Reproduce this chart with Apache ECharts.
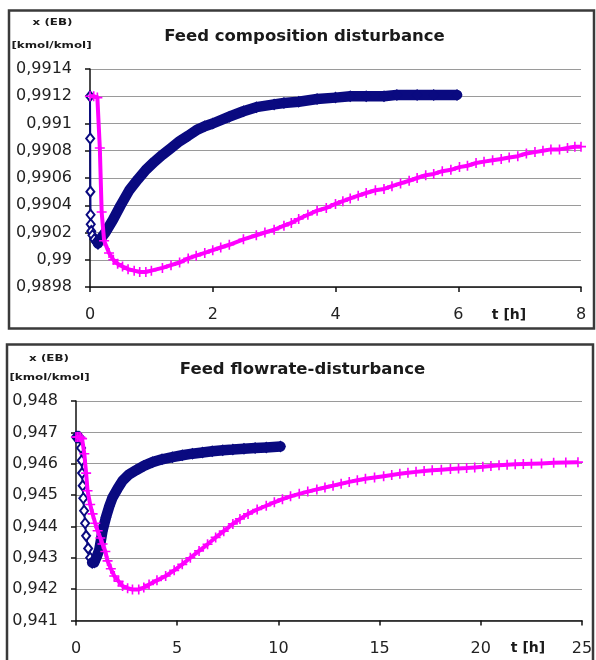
<!DOCTYPE html>
<html><head><meta charset="utf-8">
<script src="https://cdn.jsdelivr.net/npm/echarts@6/dist/echarts.min.js"></script>
<style>html,body{margin:0;padding:0;background:#fff}#c{width:596px;height:660px}</style>
</head><body><div id="c"></div>
<script>
// ---------- Data ----------
const topTitle = 'Feed composition disturbance';
const bottomTitle = 'Feed flowrate-disturbance';
const topXTicks = [0, 2, 4, 6, 8];
const topYTicks = [0.9898, 0.99, 0.9902, 0.9904, 0.9906, 0.9908, 0.991, 0.9912, 0.9914];
const botXTicks = [0, 5, 10, 15, 20, 25];
const botYTicks = [0.941, 0.942, 0.943, 0.944, 0.945, 0.946, 0.947, 0.948];

// top chart, blue (diamonds): initial transient and main response
const topBlueStart = [[0,0.9912],[0.003,0.99089],[0.006,0.9905],[0.009,0.99033],[0.012,0.99026],[0.02,0.99021],[0.04,0.99018],[0.07,0.99015],[0.1,0.99013],[0.13,0.99012]];
const topBlue = [[0.13,0.99012],[0.15,0.99014],[0.25,0.9902],[0.37,0.99029],[0.5,0.9904],[0.64,0.99051],[0.78,0.99059],[0.91,0.99066],[1.05,0.99072],[1.18,0.99077],[1.32,0.99082],[1.46,0.99087],[1.6,0.99091],[1.73,0.99095],[1.87,0.99098],[2.0,0.991],[2.27,0.99105],[2.5,0.99109],[2.71,0.99112],[3.0,0.99114],[3.16,0.99115],[3.4,0.99116],[3.7,0.99118],[4.0,0.99119],[4.24,0.9912],[4.5,0.9912],[4.79,0.9912],[5.0,0.99121],[5.33,0.99121],[5.6,0.99121],[5.98,0.99121]];
// top chart, magenta (crosses)
const topPink = [[0,0.9912],[0.06,0.9912],[0.12,0.99119],[0.16,0.99082],[0.19,0.99035],[0.23,0.99014],[0.31,0.99005],[0.38,0.99],[0.45,0.98997],[0.53,0.98995],[0.62,0.98993],[0.72,0.98992],[0.81,0.98991],[0.91,0.98991],[1.0,0.98992],[1.18,0.98994],[1.32,0.98996],[1.46,0.98998],[1.6,0.99001],[1.73,0.99003],[1.87,0.99005],[2.0,0.99007],[2.13,0.99009],[2.27,0.99011],[2.5,0.99015],[2.71,0.99018],[2.85,0.9902],[3.0,0.99022],[3.16,0.99025],[3.28,0.99027],[3.4,0.9903],[3.55,0.99033],[3.7,0.99036],[3.85,0.99038],[4.0,0.99041],[4.12,0.99043],[4.24,0.99045],[4.37,0.99047],[4.5,0.99049],[4.65,0.99051],[4.79,0.99052],[4.92,0.99054],[5.06,0.99056],[5.2,0.99058],[5.33,0.9906],[5.47,0.99062],[5.6,0.99063],[5.74,0.99065],[5.88,0.99066],[6.02,0.99068],[6.15,0.99069],[6.29,0.99071],[6.42,0.99072],[6.56,0.99073],[6.7,0.99074],[6.83,0.99075],[6.97,0.99076],[7.11,0.99078],[7.25,0.99079],[7.38,0.9908],[7.51,0.99081],[7.65,0.99081],[7.78,0.99082],[7.9,0.99083],[8.0,0.99083]];

// bottom chart, blue (diamonds)
const botBlueStart = [[0,0.94685],[0.05,0.94685],[0.1,0.94685],[0.15,0.94685],[0.2,0.94683],[0.25,0.9465],[0.28,0.9461],[0.3,0.9457],[0.33,0.9453],[0.36,0.9449],[0.4,0.9445],[0.45,0.9441],[0.5,0.9437],[0.6,0.9433],[0.7,0.943],[0.8,0.94285]];
const botBlue = [[0.8,0.94285],[0.9,0.94285],[1.0,0.943],[1.15,0.94325],[1.31,0.94386],[1.48,0.94429],[1.65,0.94465],[1.81,0.94493],[2.05,0.9452],[2.3,0.94546],[2.6,0.94565],[2.96,0.94579],[3.35,0.94593],[3.78,0.94605],[4.25,0.94614],[4.76,0.94621],[5.25,0.94627],[5.75,0.94632],[6.25,0.94636],[6.73,0.9464],[7.25,0.94643],[7.75,0.94645],[8.3,0.94648],[8.85,0.9465],[9.4,0.94652],[10.1,0.94655]];
// bottom chart, magenta (crosses)
const botPink = [[0,0.94685],[0.08,0.94685],[0.15,0.94685],[0.22,0.94684],[0.3,0.9468],[0.41,0.94632],[0.5,0.9457],[0.57,0.94514],[0.7,0.9447],[0.82,0.9444],[0.95,0.9441],[1.07,0.94386],[1.2,0.94363],[1.31,0.94344],[1.45,0.9432],[1.56,0.9429],[1.72,0.94265],[1.89,0.94242],[2.1,0.94225],[2.3,0.9421],[2.55,0.94203],[2.79,0.94199],[3.1,0.94199],[3.35,0.94205],[3.61,0.94215],[4.0,0.94228],[4.43,0.94242],[4.85,0.9426],[5.25,0.94279],[5.65,0.943],[6.08,0.94322],[6.5,0.94343],[6.9,0.94365],[7.3,0.94385],[7.75,0.94408],[8.1,0.94424],[8.5,0.9444],[8.95,0.94454],[9.4,0.94466],[9.8,0.94477],[10.2,0.94487],[10.6,0.94496],[11.03,0.94504],[11.45,0.94511],[11.9,0.94518],[12.3,0.94524],[12.7,0.9453],[13.1,0.94536],[13.5,0.94542],[13.9,0.94547],[14.3,0.94552],[14.75,0.94556],[15.2,0.9456],[15.6,0.94564],[16.0,0.94568],[16.4,0.94571],[16.8,0.94574],[17.2,0.94577],[17.6,0.94579],[18.05,0.94581],[18.5,0.94583],[18.9,0.94585],[19.3,0.94586],[19.7,0.94588],[20.1,0.9459],[20.5,0.94593],[20.9,0.94595],[21.3,0.94597],[21.7,0.94598],[22.1,0.94599],[22.5,0.946],[23.0,0.94601],[23.6,0.94603],[24.2,0.94604],[24.8,0.94605]];

// ---------- Chart ----------
const NAVY = '#0a0a80', PINK = '#ff00ff';
const FONT = 'DejaVu Sans';
const PLUS = 'path://M4.2,0H5.8V4.2H10V5.8H5.8V10H4.2V5.8H0V4.2H4.2Z';
const fmt = d => v => String(+(+v).toFixed(d)).replace('.', ',');

function xAxis(gi, ticks) {
  return {
    type: 'value', gridIndex: gi, min: ticks[0], max: ticks[ticks.length - 1],
    interval: ticks[1] - ticks[0],
    axisLine: { show: true, onZero: false, lineStyle: { color: '#111', width: 1.5 } },
    axisTick: { show: true, length: 5, lineStyle: { color: '#111', width: 1.5 } },
    splitLine: { show: false },
    axisLabel: { margin: 20, fontFamily: FONT, fontSize: 16, color: '#222' }
  };
}
function yAxis(gi, ticks, dec) {
  return {
    type: 'value', gridIndex: gi, min: ticks[0], max: ticks[ticks.length - 1],
    interval: +(ticks[1] - ticks[0]).toFixed(6),
    axisLine: { show: true, onZero: false, lineStyle: { color: '#111', width: 1.5 } },
    axisTick: { show: true, length: 5, lineStyle: { color: '#111', width: 1.5 } },
    splitLine: { show: true, lineStyle: { color: '#9a9a9a', width: 1.2 } },
    axisLabel: { margin: 18, fontFamily: FONT, fontSize: 16, color: '#222', formatter: fmt(dec) }
  };
}
function blueStart(gi, data) {
  return { type: 'line', xAxisIndex: gi, yAxisIndex: gi, data, symbol: 'emptyDiamond', symbolSize: [8, 10],
    lineStyle: { color: NAVY, width: 2 }, itemStyle: { color: NAVY, borderColor: NAVY, borderWidth: 1.3 }, z: 2 };
}
function blueMain(gi, data) {
  return { type: 'line', xAxisIndex: gi, yAxisIndex: gi, data, symbol: 'diamond', symbolSize: [11, 12],
    lineStyle: { color: NAVY, width: 10.5, cap: 'round', join: 'round' }, itemStyle: { color: NAVY }, z: 3 };
}
function pink(gi, data) {
  return { type: 'line', xAxisIndex: gi, yAxisIndex: gi, data, symbol: PLUS, symbolSize: 10,
    lineStyle: { color: PINK, width: 4, join: 'round' }, itemStyle: { color: PINK }, z: 4 };
}
function txt(x, y, text, size, bold, sx) {
  return { type: 'text', x, y, scaleX: sx || 1, z: 10,
    style: { text, fontFamily: FONT, fontSize: size, fontWeight: bold ? 'bold' : 'normal', fill: '#1a1a1a',
      align: 'center', verticalAlign: 'middle' } };
}

const chart = echarts.init(document.getElementById('c'), null, { renderer: 'canvas' });
chart.setOption({
  animation: false,
  backgroundColor: '#fff',
  grid: [
    { left: 90, right: 15, top: 69, bottom: 373 },
    { left: 76, right: 14, top: 401, bottom: 39.5 }
  ],
  xAxis: [xAxis(0, topXTicks), xAxis(1, botXTicks)],
  yAxis: [yAxis(0, topYTicks, 4), yAxis(1, botYTicks, 3)],
  series: [
    blueStart(0, topBlueStart), blueMain(0, topBlue), pink(0, topPink),
    blueStart(1, botBlueStart), blueMain(1, botBlue), pink(1, botPink)
  ],
  graphic: [
    { type: 'rect', shape: { x: 9, y: 10.5, width: 585, height: 318 }, style: { fill: 'none', stroke: '#3a3a3a', lineWidth: 2.5 }, z: 1 },
    { type: 'rect', shape: { x: 7, y: 344.5, width: 586, height: 320 }, style: { fill: 'none', stroke: '#3a3a3a', lineWidth: 2.5 }, z: 1 },
    txt(304.5, 37, topTitle, 16.5, true),
    txt(302.5, 370, bottomTitle, 16.5, true),
    txt(52.5, 22.5, 'x (EB)', 9.5, true, 1.25),
    txt(51.5, 46, '[kmol/kmol]', 9.5, true, 1.25),
    txt(49, 358.5, 'x (EB)', 9.5, true, 1.25),
    txt(49.5, 378, '[kmol/kmol]', 9.5, true, 1.25),
    txt(509, 315, 't [h]', 14, true),
    txt(528, 648, 't [h]', 14, true)
  ]
});
</script></body></html>
